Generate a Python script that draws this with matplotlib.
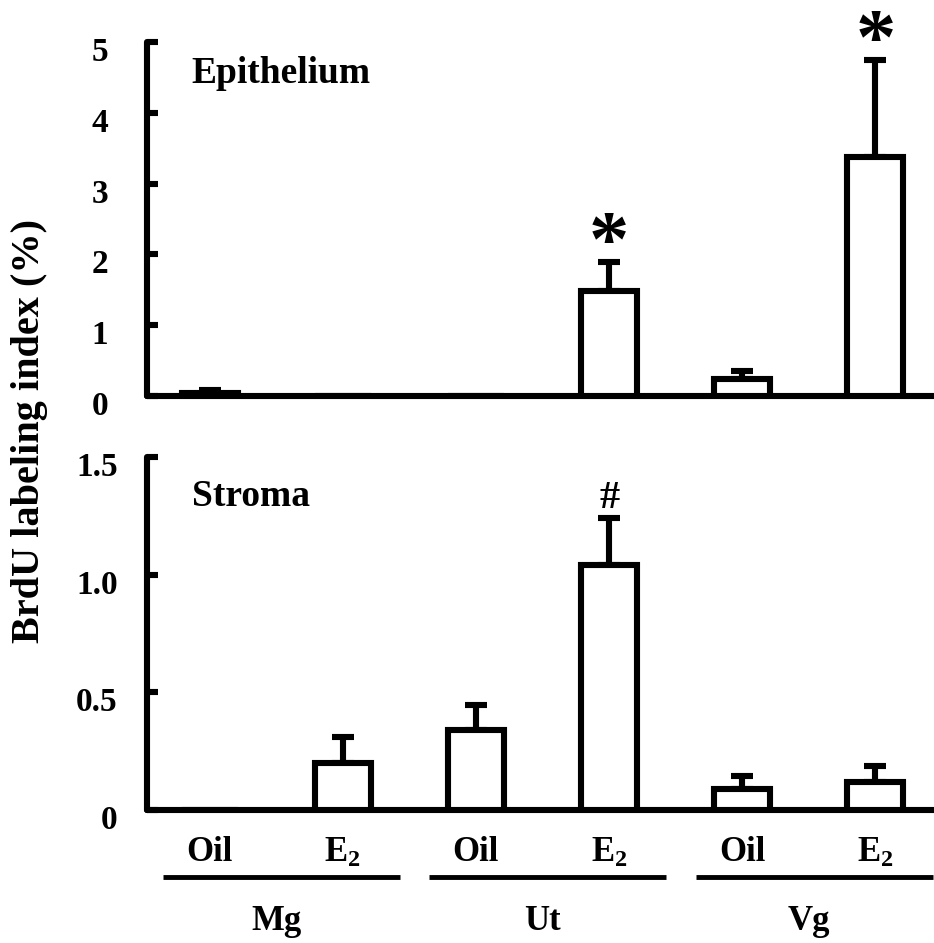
import numpy as np
import matplotlib
matplotlib.use('Agg')
import matplotlib.pyplot as plt
import matplotlib.transforms as mtransforms

plt.rcParams['font.family'] = 'Liberation Serif'
plt.rcParams['font.weight'] = 'bold'
plt.rcParams['mathtext.fontset'] = 'custom'
plt.rcParams['mathtext.rm'] = 'Liberation Serif:bold'
plt.rcParams['mathtext.default'] = 'rm'

# data
groups = ['Mg', 'Ut', 'Vg']
treatments = ['Oil', 'E$_2$']
epi_mean = [0.04, 0.0, 0.0, 1.48, 0.24, 3.38]
epi_err = [0.04, 0.0, 0.0, 0.42, 0.12, 1.37]
epi_mark = ['', '', '', '*', '', '*']
str_mean = [0.0, 0.20, 0.34, 1.04, 0.09, 0.12]
str_err = [0.0, 0.11, 0.107, 0.20, 0.056, 0.065]
str_mark = ['', '', '', '#', '', '']

x = np.arange(6)
lw = 4.4

fig = plt.figure(figsize=(9.34, 9.43), dpi=100)
ax1 = fig.add_axes([0.1574, 0.580, 0.8426, 0.3755])
ax2 = fig.add_axes([0.1574, 0.141, 0.8426, 0.3745])


def panel(ax, mean, err, mark, ymax, ticks, ticklabels, title, title_y, pad):
    mean = np.array(mean)
    err = np.array(err)
    ax.bar(x, mean, width=0.42, color='white', edgecolor='black', linewidth=lw, zorder=3)
    m = err > 0
    ax.errorbar(x[m], mean[m], yerr=[np.zeros(m.sum()), err[m]], fmt='none',
                ecolor='black', elinewidth=lw, capsize=8, capthick=lw, zorder=2)
    for xi, yi, s in zip(x, mean + err, mark):
        if s == '*':
            ax.annotate(s, (xi, yi), xytext=(0, -3), textcoords='offset points',
                        ha='center', va='baseline', fontsize=58, fontweight='bold')
        elif s:
            ax.annotate(s, (xi, yi), xytext=(0, 1), textcoords='offset points',
                        ha='center', va='bottom', fontsize=29, fontweight='bold')
    ax.set_xlim(-0.47, 5.44)
    ax.set_ylim(0, ymax)
    ax.set_yticks(ticks)
    ax.set_yticklabels(ticklabels)
    ax.spines['top'].set_visible(False)
    ax.spines['right'].set_visible(False)
    for s in ['left', 'bottom']:
        ax.spines[s].set_linewidth(lw)
        ax.spines[s].set_capstyle('round')
    ax.tick_params(axis='y', direction='in', length=8, width=lw, labelsize=24, pad=pad)
    ax.tick_params(axis='x', length=0)
    # labels sit a little below their ticks in the original
    shift = mtransforms.ScaledTranslation(0, -5 / 72, fig.dpi_scale_trans)
    for lbl in ax.get_yticklabels():
        lbl.set_transform(lbl.get_transform() + shift)
    ax.text(0.057, title_y, title, transform=ax.transAxes, fontsize=27,
            fontweight='bold', va='center', ha='left')


panel(ax1, epi_mean, epi_err, epi_mark, 5, [0, 1, 2, 3, 4, 5],
      ['0', '1', '2', '3', '4', '5'], 'Epithelium', 0.91, 28)
panel(ax2, str_mean, str_err, str_mark, 1.5, [0, 0.5, 1.0, 1.5],
      ['0', '0.5', '1.0', '1.5'], 'Stroma', 0.887, 21)

ax1.set_xticks([])
ax2.set_xticks(x)
ax2.set_xticklabels(treatments * 3, fontsize=25)
ax2.tick_params(axis='x', pad=19)

# group lines and names under the bars
trans = mtransforms.blended_transform_factory(ax2.transData, ax2.transAxes)
for i, g in enumerate(groups):
    left = 2 * i - 0.35
    right = 2 * i + 1 + 0.43
    ax2.plot([left, right], [-0.19, -0.19], color='black', lw=3.5, transform=trans,
             clip_on=False, solid_capstyle='butt')
    ax2.text(2 * i + 0.5, -0.315, g, transform=trans, ha='center', va='center',
             fontsize=25, fontweight='bold')

fig.text(0.032, 0.543, 'BrdU labeling index (%)', rotation=90, ha='center',
         va='center', fontsize=29, fontweight='bold')

plt.savefig('out.png', dpi=100)
